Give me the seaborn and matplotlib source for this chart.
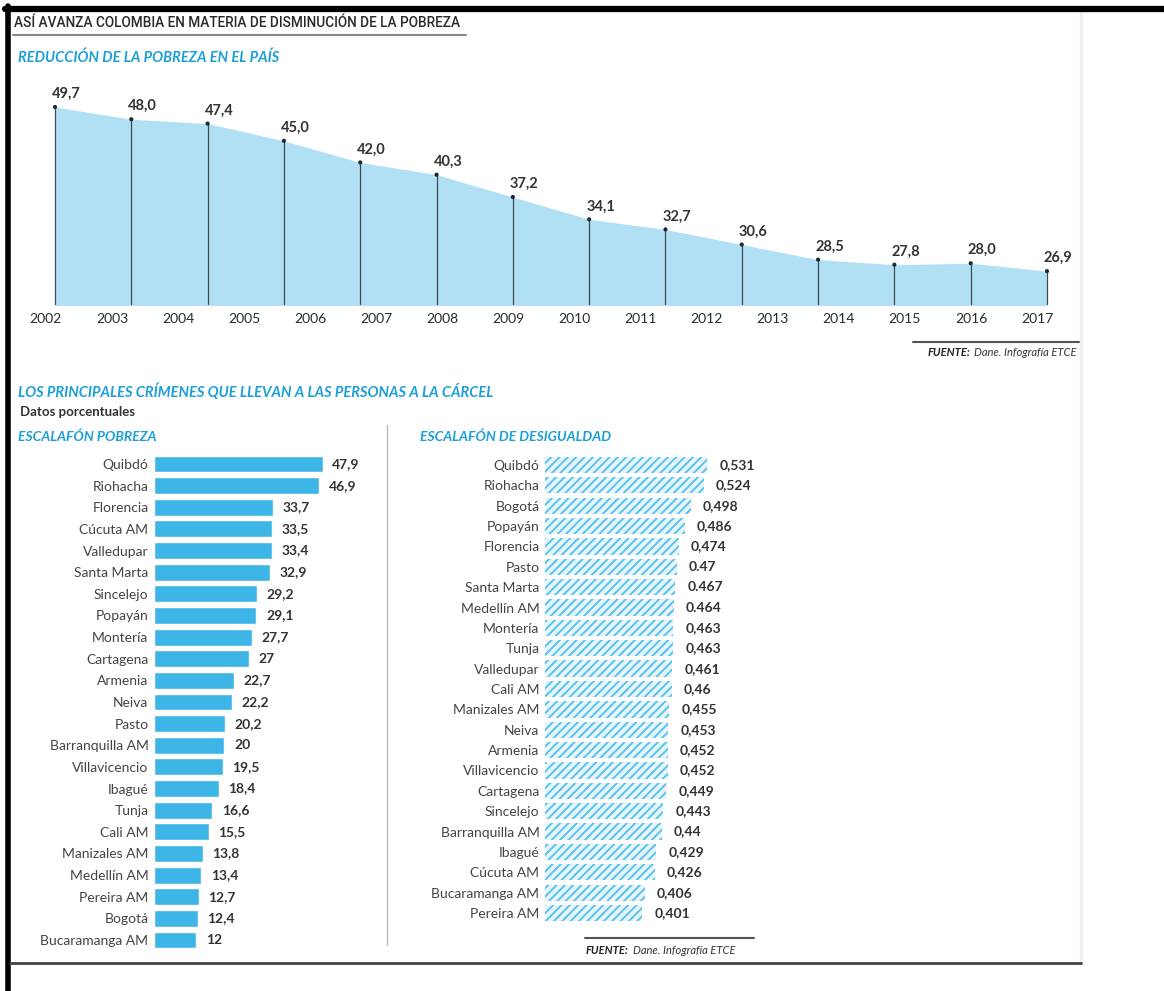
import numpy as np
import matplotlib
matplotlib.use("Agg")
import matplotlib.pyplot as plt
import seaborn as sns

# --- datos ---
anios = list(range(2002, 2018))
pobreza_pais = [49.7, 48.0, 47.4, 45.0, 42.0, 40.3, 37.2, 34.1, 32.7, 30.6, 28.5, 27.8, 28.0, 26.9]
etiquetas_pais = ["49,7", "48,0", "47,4", "45,0", "42,0", "40,3", "37,2", "34,1",
                  "32,7", "30,6", "28,5", "27,8", "28,0", "26,9"]

ciudades_pobreza = ["Quibdó", "Riohacha", "Florencia", "Cúcuta AM", "Valledupar", "Santa Marta",
                    "Sincelejo", "Popayán", "Montería", "Cartagena", "Armenia", "Neiva", "Pasto",
                    "Barranquilla AM", "Villavicencio", "Ibagué", "Tunja", "Cali AM", "Manizales AM",
                    "Medellín AM", "Pereira AM", "Bogotá", "Bucaramanga AM"]
valores_pobreza = [47.9, 46.9, 33.7, 33.5, 33.4, 32.9, 29.2, 29.1, 27.7, 27, 22.7, 22.2, 20.2,
                   20, 19.5, 18.4, 16.6, 15.5, 13.8, 13.4, 12.7, 12.4, 12]
etiquetas_pobreza = ["47,9", "46,9", "33,7", "33,5", "33,4", "32,9", "29,2", "29,1", "27,7", "27",
                     "22,7", "22,2", "20,2", "20", "19,5", "18,4", "16,6", "15,5", "13,8", "13,4",
                     "12,7", "12,4", "12"]

ciudades_desigualdad = ["Quibdó", "Riohacha", "Bogotá", "Popayán", "Florencia", "Pasto", "Santa Marta",
                        "Medellín AM", "Montería", "Tunja", "Valledupar", "Cali AM", "Manizales AM",
                        "Neiva", "Armenia", "Villavicencio", "Cartagena", "Sincelejo", "Barranquilla AM",
                        "Ibagué", "Cúcuta AM", "Bucaramanga AM", "Pereira AM"]
valores_desigualdad = [0.531, 0.524, 0.498, 0.486, 0.474, 0.47, 0.467, 0.464, 0.463, 0.463, 0.461,
                       0.46, 0.455, 0.453, 0.452, 0.452, 0.449, 0.443, 0.44, 0.429, 0.426, 0.406, 0.401]
etiquetas_desigualdad = ["0,531", "0,524", "0,498", "0,486", "0,474", "0.47", "0.467", "0.464",
                         "0,463", "0,463", "0,461", "0,46", "0,455", "0,453", "0,452", "0,452",
                         "0,449", "0,443", "0,44", "0,429", "0,426", "0,406", "0,401"]

sns.set_theme(style="white")
plt.rcParams["font.family"] = ["Lato", "DejaVu Sans"]
plt.rcParams["hatch.linewidth"] = 1.4

AZUL = "#1b9fd8"
TEXTO = "#333333"
W, H = 1164, 991

fig = plt.figure(figsize=(W / 100, H / 100), dpi=100)


def caja(izq, arriba, der, abajo):
    return [izq / W, 1 - abajo / H, (der - izq) / W, (abajo - arriba) / H]


def linea(x0, y0, x1, y1, **kw):
    fig.add_artist(plt.Line2D([x0 / W, x1 / W], [1 - y0 / H, 1 - y1 / H],
                              transform=fig.transFigure, **kw))


def texto(x, y, s, **kw):
    return fig.text(x / W, 1 - y / H, s, va="center", **kw)


def fuente(x, y, derecha=False):
    # "FUENTE:" en negrita + el resto en cursiva
    negrita = dict(fontsize=8, fontweight="bold", style="italic", color="#222222")
    normal = dict(fontsize=8, style="italic", color=TEXTO)
    if derecha:
        t = texto(x, y, "Dane. Infografía ETCE", ha="right", **normal)
        fig.add_artist(plt.Annotation("FUENTE:", xy=(0, 0.5), xycoords=t, xytext=(-4, 0),
                                      textcoords="offset pixels", ha="right", va="center", **negrita))
    else:
        t = texto(x, y, "FUENTE:", **negrita)
        fig.add_artist(plt.Annotation("Dane. Infografía ETCE", xy=(1, 0.5), xycoords=t, xytext=(4, 0),
                                      textcoords="offset pixels", ha="left", va="center", **normal))


# marcos
linea(1081, 12, 1081, 963, color="#efefef", lw=2.5)
linea(5, 9, W, 9, color="black", lw=4.5)
linea(8, 6, 8, H, color="black", lw=4)
linea(10, 963, 1081, 963, color="#444444", lw=2)

# titulos
texto(14, 23, "ASÍ AVANZA COLOMBIA EN MATERIA DE DISMINUCIÓN DE LA POBREZA",
      family=["Roboto", "DejaVu Sans"], fontsize=9.8, fontweight="medium", color="#2a2a2a")
linea(13, 35, 466, 35, color="#888888", lw=1.5)
texto(18, 58, "REDUCCIÓN DE LA POBREZA EN EL PAÍS", fontsize=10.5, color=AZUL,
      fontweight="bold", style="italic")

# --- area: reduccion de la pobreza ---
paso = 76.3
x0_px, x13_px = 55, 1047
ax1 = fig.add_axes(caja(x0_px - 0.2 * paso, 90, x13_px + 0.2 * paso, 305))
idx = np.arange(len(pobreza_pais))
ax1.fill_between(idx, pobreza_pais, 0, color="#b1e0f4", lw=0)
ax1.vlines(idx, 0, pobreza_pais, color="#3e4a52", lw=0.9)
sns.scatterplot(x=idx, y=pobreza_pais, ax=ax1, color="#1f2a30", s=9, edgecolor="none", zorder=3)
for i, (v, lab) in enumerate(zip(pobreza_pais, etiquetas_pais)):
    ax1.annotate(lab, (i, v), xytext=(-3, 6), textcoords="offset pixels", ha="left", va="bottom",
                 fontsize=10.5, fontweight="bold", color=TEXTO)
y_top = 49.7 + (107 - 90) / 7.2
ax1.set_ylim(49.7 - (305 - 107) / 7.2, y_top)
ax1.set_xlim(-0.2, 13.2)
ax1.set_xticks(np.linspace(-0.12, 12.87, len(anios)))
ax1.set_xticklabels([str(a) for a in anios], fontsize=10, color="#2a2a2a")
ax1.set_yticks([])
ax1.tick_params(axis="x", length=0, pad=6)
sns.despine(ax=ax1, left=True, bottom=True)

linea(913, 342, 1079, 342, color="#555555", lw=1.5)
fuente(1077, 353, derecha=True)

# --- seccion 2 ---
texto(18, 392, "LOS PRINCIPALES CRÍMENES QUE LLEVAN A LAS PERSONAS A LA CÁRCEL", fontsize=10.5,
      color=AZUL, fontweight="bold", style="italic")
texto(20, 412, "Datos porcentuales", fontsize=9.5, color=TEXTO, fontweight="bold")
texto(18, 437, "ESCALAFÓN POBREZA", fontsize=10, color=AZUL, fontweight="bold", style="italic")
texto(420, 437, "ESCALAFÓN DE DESIGUALDAD", fontsize=10, color=AZUL, fontweight="bold",
      style="italic")
linea(387, 425, 387, 945, color="#bbbbbb", lw=1)

# barras pobreza
fila_izq = 21.6
ax2 = fig.add_axes(caja(154, 464 - fila_izq / 2, 330, 940 + fila_izq / 2))
sns.barplot(x=valores_pobreza, y=ciudades_pobreza, orient="h", color="#3db5e6", saturation=1,
            width=0.78, ax=ax2)
ax2.bar_label(ax2.containers[0], labels=etiquetas_pobreza, padding=7, fontsize=10,
              fontweight="bold", color=TEXTO)
ax2.set_xlim(0, 50)
ax2.set_ylim(len(ciudades_pobreza) - 0.5, -0.5)

# barras desigualdad
fila_der = 20.4
ax3 = fig.add_axes(caja(545, 465 - fila_der / 2, 760, 913 + fila_der / 2))
sns.barplot(x=valores_desigualdad, y=ciudades_desigualdad, orient="h", color="#e6f6fc", saturation=1,
            width=0.8, edgecolor="#5ac3eb", linewidth=0, hatch="////", ax=ax3)
ax3.bar_label(ax3.containers[0], labels=etiquetas_desigualdad, padding=9, fontsize=10,
              fontweight="bold", color=TEXTO)
ax3.set_xlim(0.207, 0.207 + 215 / 500)
ax3.set_ylim(len(ciudades_desigualdad) - 0.5, -0.5)

for ax in (ax2, ax3):
    ax.set_xlabel("")
    ax.set_ylabel("")
    ax.set_xticks([])
    ax.tick_params(axis="y", length=0, pad=4, labelsize=10, labelcolor="#444444")
    sns.despine(ax=ax, left=True, bottom=True)
    ax.patch.set_alpha(0)

linea(585, 938, 754, 938, color="#555555", lw=1.5)
fuente(586, 951)

fig.savefig("out.png", dpi=100)
